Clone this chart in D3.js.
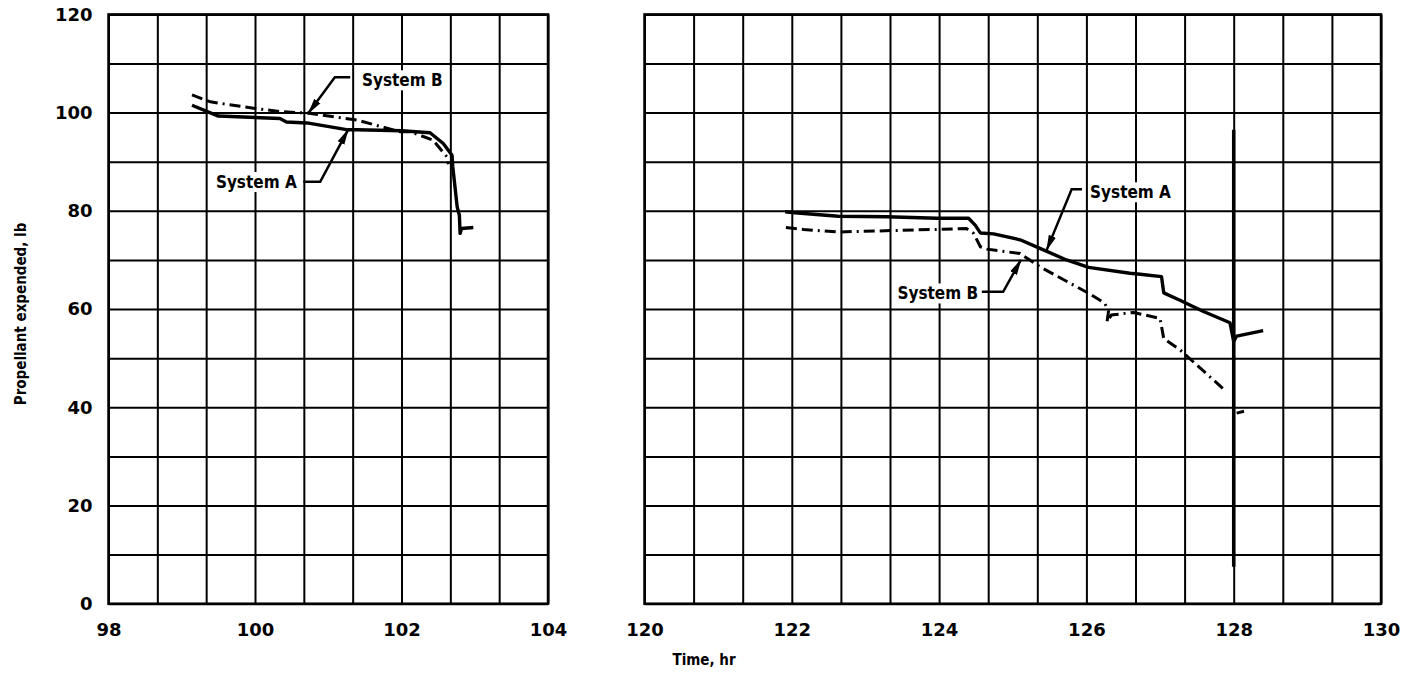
<!DOCTYPE html>
<html><head><meta charset="utf-8">
<script src="https://cdn.jsdelivr.net/npm/d3@7"></script>
<style>
body{margin:0;background:#fff}
svg{display:block}
.tick text{font-family:'DejaVu Sans',sans-serif;font-weight:bold;font-size:18px;fill:#000}
</style>
</head><body>
<svg id="c" width="1408" height="682"></svg>
<script>
// ---- tick labels ----
const leftTicks = [98, 100, 102, 104];
const rightTicks = [120, 122, 124, 126, 128, 130];
const yTicks = [0, 20, 40, 60, 80, 100, 120];
const yGridStep = 10;          // lb per grid row
const xGridStep = 2 / 3;       // hr per grid column

// ---- left panel (98-104 hr) ----
const leftTimeA = [99.14, 99.50, 100.34, 100.43, 100.71, 101.27, 101.39, 102.00, 102.39, 102.57, 102.69, 102.70, 102.76, 102.79, 102.80, 102.82, 102.98];
const leftSystemA = [101.5, 99.3, 98.8, 98.1, 97.9, 96.5, 96.5, 96.3, 95.9, 93.7, 91.3, 89.0, 80.8, 79.1, 75.4, 76.4, 76.6];
const leftTimeB = [99.14, 99.39, 99.98, 100.34, 100.71, 101.39, 101.98, 102.12, 102.25, 102.43, 102.62, 102.64];
const leftSystemB = [103.6, 102.2, 100.9, 100.2, 99.9, 98.5, 96.1, 96.1, 95.4, 94.4, 91.0, 89.5];

// ---- right panel (120-130 hr) ----
const rightTimeA = [121.91, 122.04, 122.63, 123.29, 123.97, 124.40, 124.49, 124.56, 124.74, 125.10, 125.33, 125.73, 126.03, 126.59, 126.73, 127.02, 127.05, 127.27, 127.59, 127.95, 128.00, 128.04, 128.40];
const rightSystemA = [79.8, 79.6, 78.9, 78.8, 78.5, 78.5, 77.1, 75.5, 75.3, 74.1, 72.6, 70.0, 68.5, 67.3, 67.1, 66.6, 63.3, 61.8, 59.5, 57.2, 53.4, 54.5, 55.6];
const rightTimeB = [121.92, 122.16, 122.63, 123.92, 124.37, 124.47, 124.56, 124.65, 125.10, 125.37, 126.03, 126.25, 126.30, 126.28, 126.34, 126.64, 127.00, 127.05, 127.27, 127.90, null, 128.04, 128.14];
const rightSystemB = [76.6, 76.2, 75.7, 76.2, 76.4, 75.4, 72.7, 72.2, 71.3, 68.6, 63.2, 61.2, 59.5, 57.4, 58.8, 59.3, 58.1, 54.0, 51.7, 43.2, null, 38.8, 39.2];

// ---- annotations (data units) ----
const leftNotes = [
  {label: "System B", anchor: "start", tx: 101.46, ty: 106.6, path: [[101.30, 107.2], [101.09, 107.2], [100.73, 99.9]]},
  {label: "System A", anchor: "end", tx: 100.57, ty: 85.9, path: [[100.66, 85.9], [100.89, 85.9], [101.27, 96.5]]}
];
const rightNotes = [
  {label: "System A", anchor: "start", tx: 126.05, ty: 83.8, path: [[125.94, 84.4], [125.80, 84.4], [125.46, 72.0]]},
  {label: "System B", anchor: "end", tx: 124.53, ty: 63.2, path: [[124.58, 63.5], [124.87, 63.5], [125.11, 70.0]]}
];

const svg = d3.select("#c");
const y = d3.scaleLinear().domain([0, 120]).range([603.7, 14.4]);
const xL = d3.scaleLinear().domain([98, 104]).range([108.5, 548]);
const xR = d3.scaleLinear().domain([120, 130]).range([644.5, 1381]);

const defs = svg.append("defs");
defs.append("marker").attr("id", "arr").attr("markerUnits", "userSpaceOnUse")
  .attr("viewBox", "0 -5 16 10").attr("refX", 15).attr("refY", 0)
  .attr("markerWidth", 16).attr("markerHeight", 10).attr("orient", "auto")
  .append("path").attr("d", "M0,-3.8L16,0L0,3.8Z").attr("fill", "#000");

function panel(x, ticks, showY, tA, vA, tB, vB, notes) {
  const [d0, d1] = x.domain();
  const g = svg.append("g");
  const h = y(0) - y(120), w = x(d1) - x(d0);
  const vGrid = d3.range(0, Math.round((d1 - d0) / xGridStep) + 1).map(k => d0 + k * xGridStep);
  const hGrid = d3.range(0, 121, yGridStep);

  const gv = g.append("g").attr("transform", `translate(0,${y(0)})`)
    .call(d3.axisBottom(x).tickValues(vGrid).tickSize(-h).tickFormat(""));
  gv.select(".domain").remove();
  gv.selectAll("line").attr("stroke", "#000").attr("stroke-width", 2);
  const gh = g.append("g").attr("transform", `translate(${x(d0)},0)`)
    .call(d3.axisLeft(y).tickValues(hGrid).tickSize(-w).tickFormat(""));
  gh.select(".domain").remove();
  gh.selectAll("line").attr("stroke", "#000").attr("stroke-width", 2);

  g.append("rect").attr("x", x(d0)).attr("y", y(120)).attr("width", w).attr("height", h)
    .attr("fill", "none").attr("stroke", "#000").attr("stroke-width", 2.5);

  const ax = g.append("g").attr("transform", `translate(0,${y(0)})`)
    .call(d3.axisBottom(x).tickValues(ticks).tickSize(0).tickPadding(20).tickFormat(d3.format("d")));
  ax.select(".domain").remove();
  if (showY) {
    const ay = g.append("g").attr("transform", `translate(${x(d0)},0)`)
      .call(d3.axisLeft(y).tickValues(yTicks).tickSize(0).tickPadding(16));
    ay.select(".domain").remove();
  }

  // annotations
  notes.forEach(n => {
    const t = g.append("text").attr("x", x(n.tx)).attr("y", y(n.ty)).attr("dy", "0.36em")
      .attr("text-anchor", n.anchor)
      .style("font-family", "'DejaVu Sans Condensed','DejaVu Sans',sans-serif")
      .style("font-stretch", "condensed").style("font-weight", "bold").style("font-size", "17px")
      .text(n.label);
    const bb = t.node().getBBox();
    g.insert("rect", () => t.node()).attr("x", bb.x - 2).attr("y", bb.y).attr("width", bb.width + 4)
      .attr("height", bb.height).attr("fill", "#fff");
    g.append("path").attr("d", d3.line().x(p => x(p[0])).y(p => y(p[1]))(n.path))
      .attr("fill", "none").attr("stroke", "#000").attr("stroke-width", 2.5).attr("marker-end", "url(#arr)");
  });

  const line = d3.line().defined((d, i) => d[0] != null).x(d => x(d[0])).y(d => y(d[1]));
  g.append("path").datum(tA.map((t, i) => [t, vA[i]])).attr("d", line)
    .attr("fill", "none").attr("stroke", "#000").attr("stroke-width", 3.4).attr("stroke-linejoin", "round");
  g.append("path").datum(tB.map((t, i) => [t, vB[i]])).attr("d", line)
    .attr("fill", "none").attr("stroke", "#000").attr("stroke-width", 3)
    .attr("stroke-dasharray", "11,5,11,5,2,5");
  return g;
}

panel(xL, leftTicks, true, leftTimeA, leftSystemA, leftTimeB, leftSystemB, leftNotes);
const gR = panel(xR, rightTicks, false, rightTimeA, rightSystemA, rightTimeB, rightSystemB, rightNotes);
// heavier scan segment of the 128 hr grid line
gR.append("line").attr("x1", xR(128)).attr("x2", xR(128)).attr("y1", y(96.5)).attr("y2", y(7.5))
  .attr("stroke", "#000").attr("stroke-width", 3.5);

svg.append("text").attr("transform", `translate(21,${y(59)}) rotate(-90)`)
  .attr("text-anchor", "middle").attr("dy", "0.35em")
  .style("font-family", "'DejaVu Sans Condensed','DejaVu Sans',sans-serif").style("font-stretch", "condensed")
  .style("font-weight", "bold").style("font-size", "15px").text("Propellant expended, lb");
svg.append("text").attr("x", 704).attr("y", 665).attr("text-anchor", "middle")
  .style("font-family", "'DejaVu Sans Condensed','DejaVu Sans',sans-serif").style("font-stretch", "condensed")
  .style("font-weight", "bold").style("font-size", "15px").text("Time, hr");
</script>
</body></html>
